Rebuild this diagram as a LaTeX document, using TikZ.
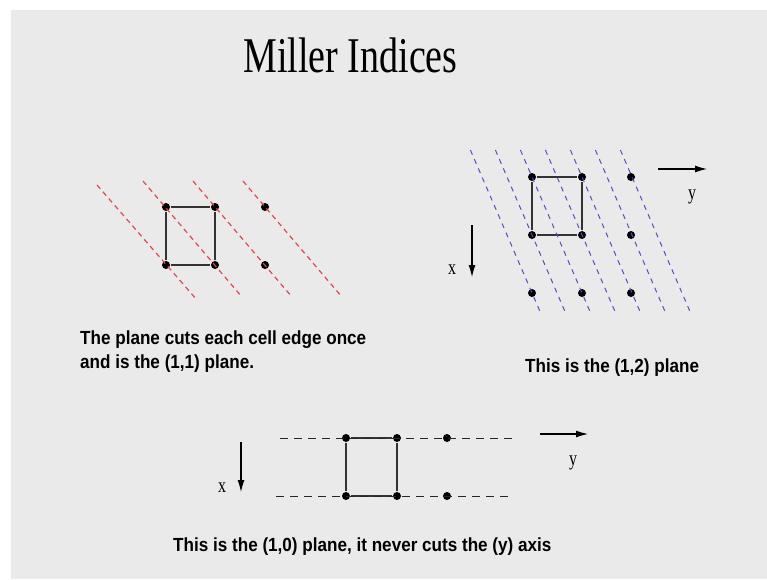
\documentclass[tikz,border=0pt]{standalone}
\usepackage{fontspec}
\setmainfont{Liberation Serif}
\newfontfamily\titlefont[FakeStretch=0.76]{Liberation Serif}
\newfontfamily\capfont[FakeStretch=0.9]{Liberation Sans}
\usetikzlibrary{arrows.meta,calc}
\definecolor{slide}{HTML}{EAEAEA}
\definecolor{planered}{HTML}{E0474E}
\definecolor{planeblue}{HTML}{5050C4}

\begin{document}
\begin{tikzpicture}[x=1pt, y=-1pt, >=Latex,
  dot/.style={circle, fill=black, inner sep=0pt, minimum size=8pt},
  cell/.style={draw=black!80, line width=1.2pt, shorten <=1pt, shorten >=1pt},
  redplane/.style={draw=planered, line width=1.2pt, dash pattern=on 5pt off 4pt},
  blueplane/.style={draw=planeblue, line width=1pt, dash pattern=on 5pt off 5pt},
  blackplane/.style={draw=black!85, line width=1pt, dash pattern=on 8pt off 6pt},
  axis/.style={line width=1.1pt, -{Latex[length=12pt, width=7pt]}},
  axlabel/.style={font=\titlefont\fontsize{21}{21}\selectfont, inner sep=0pt},
  caption/.style={font=\capfont\bfseries\fontsize{19}{24}\selectfont, align=left, inner sep=0pt, anchor=base west}]
  \useasboundingbox (0,0) rectangle (767,579);
  \fill[white] (0,0) rectangle (767,579);
  \fill[slide] (11,10) rectangle (767,579);

  \node[font=\titlefont\fontsize{50}{50}\selectfont, inner sep=0pt, anchor=base] (title) at (350.5,72) {Miller Indices};

  % (1,1) plane
  \node[dot] (l11) at (166,207) {};
  \node[dot] (l12) at (215,207) {};
  \node[dot] (l13) at (265,207) {};
  \node[dot] (l21) at (166,265) {};
  \node[dot] (l22) at (215,265) {};
  \node[dot] (l23) at (265,265) {};
  \draw[cell] (l11) -- (l12);
  \draw[cell] (l12) -- (l22);
  \draw[cell] (l22) -- (l21);
  \draw[cell] (l21) -- (l11);
  \draw[redplane] ($(l21)+(-69,-80)$) -- ($(l21)+(31,35)$);
  \draw[redplane] ($(l11)+(-23,-26)$) -- ($(l22)+(27,32)$);
  \draw[redplane] ($(l12)+(-22,-26)$) -- ($(l23)+(27,32)$);
  \draw[redplane] ($(l13)+(-22,-26)$) -- ($(l23)+(77,32)$);
  \node[caption] (capa) at (80,368) {The plane cuts each cell edge once\\and is the (1,1) plane.};

  % (1,2) plane
  \node[dot] (r11) at (532,177) {};
  \node[dot] (r12) at (582,177) {};
  \node[dot] (r13) at (631,177) {};
  \node[dot] (r21) at (532,235) {};
  \node[dot] (r22) at (582,235) {};
  \node[dot] (r23) at (631,235) {};
  \node[dot] (r31) at (532,293) {};
  \node[dot] (r32) at (582,293) {};
  \node[dot] (r33) at (631,293) {};
  \draw[cell] (r11) -- (r12);
  \draw[cell] (r12) -- (r22);
  \draw[cell] (r22) -- (r21);
  \draw[cell] (r21) -- (r11);
  \draw[blueplane] ($(r11)+(-61.6,-27)$) -- ($(r11)+(9.5,138)$);
  \draw[blueplane] ($(r11)+(-36.6,-27)$) -- ($(r11)+(34.5,138)$);
  \draw[blueplane] ($(r11)+(-11.6,-27)$) -- ($(r11)+(59.5,138)$);
  \draw[blueplane] ($(r11)+(13.4,-27)$) -- ($(r11)+(84.5,138)$);
  \draw[blueplane] ($(r11)+(38.4,-27)$) -- ($(r11)+(109.5,138)$);
  \draw[blueplane] ($(r11)+(63.4,-27)$) -- ($(r11)+(134.5,138)$);
  \draw[blueplane] ($(r11)+(88.4,-27)$) -- ($(r11)+(159.5,138)$);
  \coordinate (ry0) at (658,169);
  \coordinate (ry1) at (707,169);
  \coordinate (rx0) at (472,225);
  \coordinate (rx1) at (472,277);
  \draw[axis] (ry0) -- (ry1);
  \draw[axis] (rx0) -- (rx1);
  \node[axlabel] (rylab) at (692,197) {y};
  \node[axlabel] (rxlab) at (452,270) {x};
  \node[caption] (capb) at (525,372) {This is the (1,2) plane};

  % (1,0) plane
  \node[dot] (b11) at (346,438) {};
  \node[dot] (b12) at (397,438) {};
  \node[dot] (b13) at (447,438) {};
  \node[dot] (b21) at (346,496) {};
  \node[dot] (b22) at (397,496) {};
  \node[dot] (b23) at (447,496) {};
  \draw[cell] (b11) -- (b12);
  \draw[cell] (b12) -- (b22);
  \draw[cell] (b22) -- (b21);
  \draw[cell] (b21) -- (b11);
  \draw[blackplane] ($(b11)+(-66,0)$) -- ($(b13)+(70,0)$);
  \draw[blackplane] ($(b21)+(-70,0)$) -- ($(b23)+(66,0)$);
  \coordinate (by0) at (540,434);
  \coordinate (by1) at (588,434);
  \coordinate (bx0) at (241,442);
  \coordinate (bx1) at (241,492);
  \draw[axis] (by0) -- (by1);
  \draw[axis] (bx0) -- (bx1);
  \node[axlabel] (bylab) at (573,463) {y};
  \node[axlabel] (bxlab) at (222,488) {x};
  \node[caption] (capc) at (173,551) {This is the (1,0) plane, it never cuts the (y) axis};
\end{tikzpicture}
\end{document}
